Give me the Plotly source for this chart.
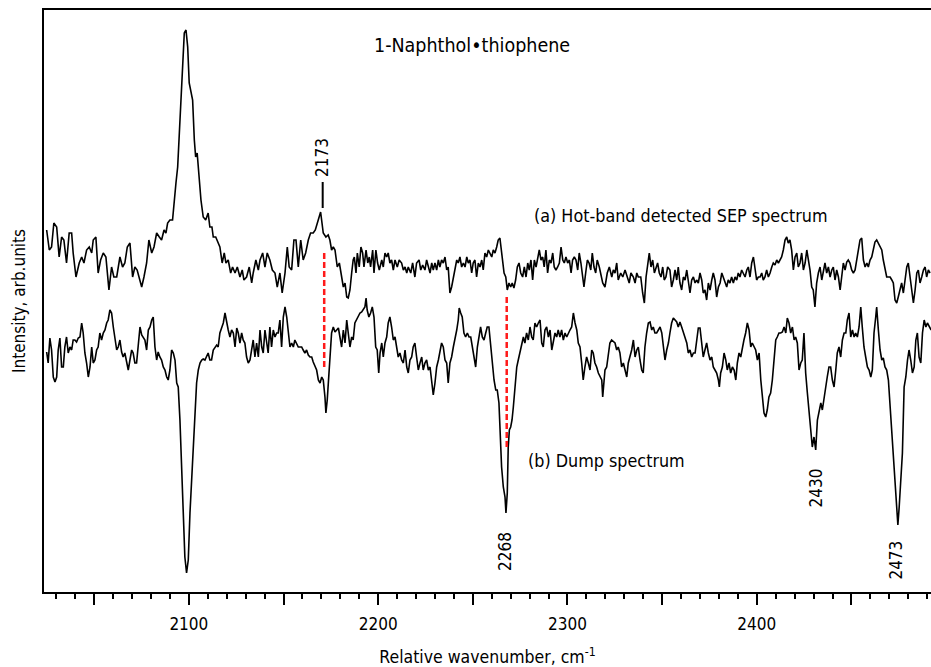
import plotly.graph_objects as go

# (a) Hot-band detected SEP spectrum
wn_a = [2024.9, 2026.3, 2027.5, 2028.7, 2030.2, 2031.5, 2032.8, 2034.0, 2035.4, 2036.8, 2038.1, 2038.9,
        2040.4, 2042.1, 2043.4, 2044.6, 2046.0, 2047.4, 2048.7, 2049.5, 2050.9, 2052.1, 2053.4, 2054.8,
        2056.2, 2057.8, 2059.2, 2060.4, 2061.9, 2063.6, 2065.0, 2066.2, 2067.5, 2068.9, 2070.3, 2071.5,
        2072.7, 2074.2, 2075.1, 2076.3, 2077.7, 2078.9, 2080.4, 2081.6, 2083.0, 2084.4, 2085.6, 2086.9,
        2087.9, 2088.8, 2090.0, 2091.4, 2092.1, 2093.2, 2094.1, 2094.9, 2095.8, 2096.7, 2097.6, 2098.5,
        2099.4, 2100.2, 2101.0, 2102.0, 2102.9, 2103.6, 2104.4, 2105.3, 2106.4, 2107.6, 2108.9, 2110.2,
        2111.1, 2112.2, 2112.9, 2114.2, 2115.5, 2116.4, 2117.6, 2118.7, 2119.6, 2120.8, 2122.1, 2123.1,
        2124.4, 2125.6, 2127.0, 2128.2, 2129.1, 2130.5, 2131.9, 2133.2, 2134.0, 2135.4, 2136.7, 2137.6,
        2139.0, 2140.2, 2141.4, 2142.8, 2144.1, 2145.5, 2146.7, 2148.1, 2149.3, 2150.8, 2152.0, 2153.0,
        2154.3, 2155.5, 2156.6, 2157.8, 2159.1, 2160.4, 2161.7, 2163.1, 2164.3, 2165.7, 2166.8, 2167.8,
        2168.9, 2169.6, 2171.0, 2172.4, 2173.6, 2174.5, 2175.4, 2176.3, 2177.2, 2178.4, 2179.5, 2180.7,
        2181.6, 2182.5, 2183.4, 2184.2, 2185.1, 2186.0, 2186.8, 2187.4, 2188.3, 2189.0, 2190.0, 2190.9,
        2191.8, 2192.5, 2193.6, 2194.5, 2195.3, 2196.0, 2197.1, 2197.8, 2198.8, 2199.7, 2200.6, 2201.9,
        2202.7, 2203.6, 2204.5, 2205.3, 2206.2, 2207.1, 2208.0, 2208.9, 2210.1, 2211.1, 2212.4, 2213.3,
        2214.2, 2215.1, 2215.9, 2217.2, 2218.2, 2219.4, 2220.3, 2221.6, 2222.5, 2223.5, 2224.7, 2225.6,
        2226.5, 2227.4, 2228.3, 2229.1, 2230.0, 2230.9, 2231.8, 2232.6, 2233.5, 2234.4, 2235.3, 2236.2,
        2237.0, 2237.9, 2238.8, 2239.7, 2240.6, 2241.5, 2242.3, 2243.2, 2244.1, 2245.0, 2245.9, 2246.8,
        2247.6, 2248.5, 2249.4, 2250.2, 2251.1, 2252.0, 2252.9, 2253.8, 2254.7, 2255.5, 2256.4, 2257.3,
        2258.2, 2259.1, 2260.0, 2260.8, 2261.7, 2262.6, 2263.4, 2264.3, 2264.9, 2265.8, 2266.5, 2267.4,
        2268.2, 2269.1, 2270.0, 2270.8, 2271.7, 2272.6, 2273.5, 2274.4, 2275.3, 2276.3, 2277.2, 2278.1,
        2279.0, 2279.8, 2280.7, 2281.6, 2282.5, 2283.4, 2284.3, 2285.1, 2286.0, 2286.9, 2287.7, 2288.6,
        2289.5, 2290.4, 2291.3, 2292.2, 2293.0, 2293.9, 2294.8, 2295.7, 2296.6, 2297.5, 2298.3, 2299.2,
        2300.1, 2301.0, 2301.9, 2302.7, 2303.6, 2304.5, 2305.4, 2306.2, 2307.1, 2308.0, 2308.7, 2309.6,
        2310.5, 2311.4, 2312.3, 2313.1, 2314.0, 2314.9, 2315.7, 2316.8, 2318.6, 2319.8, 2321.0, 2322.1,
        2323.4, 2324.2, 2325.1, 2326.0, 2326.8, 2328.1, 2329.2, 2330.4, 2331.6, 2332.6, 2333.5, 2334.8,
        2335.7, 2336.6, 2337.4, 2338.7, 2339.7, 2340.6, 2341.5, 2342.4, 2343.2, 2344.1, 2345.0, 2345.9,
        2346.8, 2347.6, 2348.5, 2349.4, 2350.3, 2351.1, 2352.0, 2352.9, 2354.1, 2355.0, 2355.9, 2356.8,
        2357.7, 2358.5, 2359.4, 2360.3, 2361.2, 2362.1, 2363.0, 2363.8, 2364.7, 2365.6, 2366.5, 2367.4,
        2368.2, 2369.1, 2370.0, 2370.9, 2371.7, 2372.6, 2373.5, 2374.4, 2375.3, 2376.2, 2377.0, 2377.9,
        2378.8, 2379.7, 2380.6, 2381.5, 2382.3, 2383.2, 2384.1, 2384.9, 2385.8, 2386.7, 2387.6, 2388.5,
        2389.4, 2390.2, 2391.1, 2392.0, 2392.9, 2393.8, 2394.7, 2395.5, 2396.4, 2397.3, 2398.2, 2399.0,
        2399.9, 2400.8, 2401.7, 2402.6, 2403.4, 2404.3, 2405.2, 2406.1, 2407.0, 2407.9, 2408.7, 2409.6,
        2410.5, 2411.4, 2412.3, 2413.1, 2414.0, 2414.9, 2415.8, 2416.6, 2417.5, 2418.4, 2419.3, 2420.2,
        2421.1, 2421.9, 2422.8, 2423.7, 2424.6, 2425.5, 2426.4, 2427.2, 2428.1, 2429.0, 2429.8, 2430.7,
        2431.6, 2432.5, 2433.4, 2434.3, 2435.1, 2436.0, 2436.9, 2437.8, 2438.7, 2439.6, 2440.4, 2441.3,
        2442.2, 2443.1, 2444.0, 2444.8, 2445.7, 2446.6, 2447.5, 2448.3, 2449.2, 2450.1, 2451.0, 2451.9,
        2452.8, 2453.6, 2454.5, 2455.4, 2456.3, 2457.2, 2458.1, 2458.9, 2459.8, 2460.7, 2461.5, 2462.4,
        2463.3, 2464.2, 2465.1, 2466.0, 2466.8, 2467.7, 2468.6, 2469.5, 2470.4, 2471.3, 2472.1, 2473.0,
        2473.9, 2474.7, 2475.6, 2476.5, 2477.4, 2478.3, 2479.2, 2480.0, 2480.9, 2481.8, 2482.7, 2483.6,
        2484.5, 2485.3, 2486.2, 2487.1, 2488.0, 2488.9, 2489.7, 2490.6, 2491.5]
int_a = [36.2, 34.2, 34.5, 36.9, 36.5, 33.5, 35.5, 35.2, 32.9, 35.9, 35.9, 33.9,
         31.5, 32.9, 33.5, 32.9, 34.2, 34.5, 33.9, 35.2, 35.5, 31.9, 33.2, 33.9,
         33.5, 30.2, 32.5, 31.5, 31.5, 33.5, 32.5, 32.9, 34.5, 34.9, 31.5, 32.5,
         32.2, 31.2, 30.5, 31.5, 32.9, 35.2, 33.9, 34.5, 35.9, 35.5, 35.2, 36.2,
         35.9, 36.9, 37.2, 37.2, 38.9, 40.9, 42.5, 45.9, 49.2, 52.5, 55.9, 56.2,
         54.5, 50.9, 50.2, 49.2, 45.2, 43.5, 43.9, 41.5, 39.2, 37.5, 37.2, 37.9,
         36.5, 36.5, 35.5, 35.5, 34.9, 34.5, 32.9, 33.9, 32.9, 33.2, 31.9, 32.5,
         31.9, 32.5, 31.5, 32.2, 31.2, 31.5, 32.5, 30.9, 31.9, 33.2, 32.2, 33.2,
         33.9, 32.5, 33.9, 33.2, 32.2, 31.9, 30.5, 31.9, 29.9, 31.9, 34.5, 32.5,
         32.2, 35.2, 35.2, 32.5, 35.2, 33.2, 33.9, 35.2, 35.9, 35.9, 36.2, 36.9,
         37.5, 38.0, 35.9, 35.5, 35.7, 35.2, 34.2, 34.5, 34.2, 32.5, 32.9, 31.5,
         30.5, 30.9, 29.5, 29.4, 30.2, 31.9, 33.2, 33.5, 31.9, 33.9, 32.5, 34.5,
         33.9, 32.5, 34.2, 32.9, 33.5, 32.5, 34.2, 31.9, 34.2, 32.9, 32.2, 33.2,
         32.5, 33.9, 33.5, 33.9, 32.9, 33.2, 32.2, 33.2, 32.5, 33.2, 32.9, 32.2,
         32.5, 31.9, 32.5, 31.9, 32.9, 31.5, 32.9, 33.2, 32.2, 32.7, 32.2, 33.2,
         32.5, 31.9, 32.9, 32.2, 32.9, 32.2, 33.2, 32.5, 33.2, 32.9, 33.5, 32.2,
         32.5, 29.9, 30.5, 31.5, 32.5, 33.2, 32.9, 33.5, 32.5, 32.9, 32.5, 33.5,
         32.9, 33.2, 31.9, 32.9, 33.2, 31.5, 32.9, 32.5, 33.2, 32.2, 33.9, 33.5,
         34.2, 33.9, 33.5, 34.2, 33.9, 34.5, 35.2, 35.4, 34.5, 32.9, 31.9, 31.5,
         30.2, 30.9, 30.5, 30.9, 30.4, 31.2, 32.5, 32.9, 31.9, 31.5, 32.5, 31.5,
         32.9, 32.2, 33.2, 31.2, 33.2, 32.5, 33.5, 34.2, 33.2, 33.5, 32.5, 34.2,
         31.9, 33.2, 32.9, 33.9, 32.5, 32.2, 32.5, 32.9, 34.5, 33.2, 32.9, 33.5,
         32.9, 33.2, 31.9, 33.2, 33.5, 33.2, 32.2, 33.9, 32.9, 31.5, 30.5, 31.9,
         33.2, 32.9, 32.2, 33.9, 32.5, 31.9, 33.2, 32.5, 30.9, 30.5, 31.9, 32.5,
         31.5, 32.2, 31.9, 32.9, 31.2, 31.9, 31.5, 32.2, 31.5, 30.9, 31.9, 31.5,
         30.9, 31.9, 31.5, 31.5, 29.9, 28.9, 31.5, 32.9, 33.9, 32.5, 33.2, 31.9,
         32.5, 32.9, 31.9, 31.5, 32.5, 31.2, 31.5, 32.5, 32.2, 30.5, 31.2, 32.2,
         31.2, 32.5, 30.9, 30.2, 31.5, 31.2, 32.2, 30.9, 29.9, 31.2, 31.5, 30.9,
         31.2, 30.9, 31.9, 31.2, 29.9, 30.2, 29.2, 30.9, 30.2, 31.2, 31.9, 31.2,
         29.5, 30.5, 30.9, 31.9, 31.5, 30.9, 30.5, 31.2, 30.9, 31.5, 30.9, 31.5,
         31.2, 31.9, 31.5, 32.2, 31.9, 31.5, 32.2, 32.5, 31.5, 32.9, 33.5, 32.2,
         31.2, 31.5, 31.5, 31.9, 31.2, 31.5, 32.2, 31.5, 31.9, 32.5, 32.9, 32.7,
         33.2, 32.9, 33.2, 33.5, 34.2, 35.2, 35.5, 34.9, 35.2, 34.2, 32.2, 33.5,
         33.9, 32.5, 32.9, 33.9, 32.2, 32.9, 34.2, 33.2, 32.2, 30.5, 30.2, 28.5,
         30.9, 31.9, 32.5, 31.2, 32.2, 32.9, 31.9, 32.5, 31.5, 32.2, 32.5, 31.2,
         32.2, 31.5, 30.2, 31.5, 32.9, 32.2, 33.0, 33.2, 32.9, 32.2, 31.9, 32.2,
         33.2, 34.2, 35.2, 35.4, 33.2, 32.5, 32.9, 32.5, 33.2, 33.5, 34.2, 35.0,
         35.2, 34.9, 34.5, 34.2, 33.2, 32.2, 31.5, 31.5, 31.5, 31.2, 30.9, 29.2,
         28.9, 29.5, 30.2, 30.9, 29.9, 31.5, 32.5, 32.9, 31.5, 29.9, 28.9, 30.2,
         31.9, 32.2, 30.9, 31.5, 32.2, 32.5, 31.5, 32.2, 31.9]

# (b) Dump spectrum
wn_b = [2024.9, 2025.7, 2026.6, 2027.5, 2028.4, 2029.3, 2030.2, 2031.0, 2031.9, 2032.8, 2033.7, 2034.5,
        2035.4, 2036.3, 2037.2, 2038.1, 2038.9, 2039.8, 2040.7, 2041.6, 2042.5, 2043.4, 2044.2, 2045.1,
        2046.0, 2046.9, 2047.8, 2048.7, 2049.5, 2050.4, 2051.3, 2052.1, 2053.0, 2053.9, 2054.8, 2055.7,
        2056.6, 2057.4, 2058.3, 2059.2, 2060.1, 2061.0, 2061.9, 2062.7, 2063.6, 2064.5, 2065.3, 2066.2,
        2067.1, 2068.0, 2068.9, 2069.8, 2070.6, 2071.5, 2072.4, 2073.3, 2074.2, 2075.1, 2075.9, 2076.8,
        2077.7, 2078.6, 2079.5, 2080.4, 2081.2, 2082.1, 2083.0, 2083.8, 2084.7, 2085.6, 2086.5, 2087.4,
        2088.3, 2089.1, 2090.0, 2090.9, 2091.8, 2092.7, 2093.6, 2094.4, 2095.3, 2096.2, 2097.0, 2097.9,
        2098.8, 2099.7, 2100.6, 2101.5, 2102.3, 2103.2, 2104.1, 2105.0, 2105.9, 2106.8, 2107.6, 2108.5,
        2109.4, 2110.2, 2111.1, 2112.0, 2112.9, 2113.8, 2114.7, 2115.5, 2116.4, 2117.3, 2118.2, 2119.1,
        2120.0, 2120.8, 2121.7, 2122.6, 2123.5, 2124.4, 2125.3, 2126.1, 2127.0, 2127.9, 2128.7, 2129.6,
        2130.5, 2131.4, 2132.3, 2133.2, 2134.0, 2134.9, 2135.8, 2136.7, 2137.6, 2138.5, 2139.3, 2140.2,
        2141.1, 2141.9, 2142.8, 2143.7, 2144.6, 2145.5, 2146.4, 2147.2, 2148.1, 2149.0, 2149.9, 2150.8,
        2151.7, 2152.5, 2153.4, 2154.3, 2155.2, 2156.0, 2156.9, 2157.8, 2158.7, 2159.6, 2160.4, 2161.3,
        2162.2, 2163.1, 2164.0, 2164.9, 2165.7, 2166.6, 2167.5, 2168.4, 2169.3, 2170.2, 2171.0, 2171.9,
        2172.4, 2173.1, 2173.9, 2174.5, 2175.4, 2176.3, 2177.2, 2178.1, 2179.0, 2180.7, 2181.6, 2182.5,
        2183.4, 2184.2, 2185.1, 2186.0, 2186.8, 2187.7, 2188.6, 2189.5, 2190.4, 2191.3, 2192.1, 2193.0,
        2193.6, 2194.2, 2195.1, 2196.0, 2196.9, 2197.8, 2198.7, 2199.5, 2200.3, 2201.0, 2201.9, 2202.7,
        2203.6, 2204.5, 2205.3, 2206.2, 2207.1, 2208.0, 2208.9, 2209.8, 2210.6, 2211.5, 2212.4, 2213.3,
        2214.2, 2215.1, 2215.9, 2216.8, 2217.7, 2218.5, 2219.4, 2220.3, 2221.2, 2222.1, 2223.0, 2223.8,
        2224.7, 2225.6, 2226.5, 2227.4, 2228.3, 2229.1, 2230.0, 2230.9, 2231.8, 2232.6, 2233.5, 2234.4,
        2235.3, 2236.2, 2237.0, 2237.9, 2238.8, 2239.7, 2240.6, 2241.5, 2242.3, 2242.8, 2243.6, 2244.4,
        2245.3, 2246.2, 2247.1, 2248.0, 2248.9, 2249.7, 2250.6, 2251.5, 2252.4, 2253.2, 2254.1, 2255.0,
        2255.9, 2256.8, 2257.6, 2258.5, 2259.4, 2260.3, 2261.2, 2262.1, 2262.9, 2263.8, 2264.3, 2265.2,
        2266.1, 2267.0, 2267.5, 2268.2, 2268.7, 2269.3, 2270.0, 2270.7, 2271.4, 2272.3, 2273.2, 2274.0,
        2274.9, 2275.8, 2276.7, 2277.5, 2278.4, 2279.3, 2280.2, 2281.1, 2281.9, 2282.8, 2283.7, 2284.6,
        2285.5, 2286.4, 2287.2, 2288.1, 2289.0, 2289.9, 2290.8, 2291.7, 2292.5, 2293.4, 2294.3, 2295.1,
        2296.0, 2296.9, 2297.8, 2298.7, 2299.6, 2300.4, 2301.3, 2302.2, 2303.1, 2304.0, 2304.9, 2305.7,
        2306.6, 2307.5, 2308.3, 2309.2, 2310.1, 2311.0, 2311.9, 2312.8, 2313.6, 2314.5, 2315.4, 2316.3,
        2317.2, 2318.1, 2318.6, 2319.3, 2319.8, 2320.7, 2321.5, 2322.4, 2323.3, 2324.2, 2325.1, 2326.0,
        2326.8, 2327.7, 2328.6, 2329.5, 2330.4, 2331.3, 2332.1, 2333.0, 2333.9, 2334.8, 2335.7, 2336.6,
        2337.4, 2338.3, 2339.2, 2340.0, 2340.9, 2341.8, 2342.7, 2343.6, 2344.5, 2345.3, 2346.2, 2347.1,
        2348.0, 2348.9, 2349.8, 2350.6, 2351.5, 2352.4, 2353.3, 2354.1, 2355.0, 2355.9, 2356.8, 2357.7,
        2358.5, 2359.4, 2360.3, 2361.2, 2362.1, 2363.0, 2363.8, 2364.7, 2365.6, 2366.5, 2367.4, 2368.2,
        2369.1, 2370.0, 2370.9, 2371.7, 2372.6, 2373.5, 2374.4, 2375.3, 2376.2, 2377.0, 2377.9, 2378.8,
        2379.7, 2380.2, 2380.9, 2381.8, 2382.7, 2383.6, 2384.4, 2385.3, 2386.2, 2387.1, 2388.0, 2388.9,
        2389.7, 2390.6, 2391.5, 2392.3, 2393.2, 2394.1, 2395.0, 2395.9, 2396.8, 2397.6, 2398.5, 2399.4,
        2400.3, 2401.2, 2402.1, 2402.9, 2403.8, 2404.7, 2405.5, 2406.4, 2407.3, 2408.2, 2409.1, 2410.0,
        2410.8, 2411.7, 2412.6, 2413.5, 2414.4, 2415.3, 2416.1, 2417.0, 2417.9, 2418.8, 2419.7, 2420.5,
        2421.4, 2422.3, 2423.2, 2424.0, 2424.9, 2425.8, 2426.7, 2427.6, 2428.5, 2429.3, 2430.2, 2431.1,
        2432.0, 2432.9, 2433.8, 2434.6, 2435.5, 2436.4, 2437.2, 2438.1, 2439.0, 2439.9, 2440.8, 2441.7,
        2442.5, 2443.4, 2444.3, 2445.2, 2446.1, 2447.0, 2447.8, 2448.7, 2449.6, 2450.5, 2451.4, 2452.2,
        2453.1, 2454.0, 2454.9, 2455.7, 2456.6, 2457.5, 2458.4, 2459.3, 2460.2, 2461.0, 2461.9, 2462.8,
        2463.3, 2464.2, 2465.1, 2466.0, 2466.8, 2467.7, 2468.6, 2469.5, 2470.4, 2471.3, 2472.1, 2473.0,
        2473.9, 2474.5, 2475.2, 2476.0, 2476.9, 2477.8, 2478.7, 2479.6, 2480.4, 2481.3, 2482.2, 2483.1,
        2484.0, 2484.8, 2485.7, 2486.6, 2487.5, 2488.4, 2489.3, 2490.1, 2491.0, 2492.1]
int_b = [24.0, 22.9, 25.4, 24.2, 21.5, 21.0, 21.5, 24.2, 25.4, 22.5, 22.5, 24.5,
         25.5, 23.9, 24.5, 24.2, 25.2, 25.2, 25.0, 25.4, 25.5, 26.9, 25.9, 23.9,
         22.9, 21.5, 22.5, 24.5, 22.9, 23.2, 24.2, 24.5, 25.9, 25.2, 25.9, 26.2,
         26.9, 27.2, 28.2, 27.9, 26.5, 25.2, 24.2, 24.5, 25.2, 24.0, 23.5, 23.9,
         22.9, 22.2, 23.2, 24.2, 23.9, 22.9, 22.9, 25.2, 26.5, 25.7, 25.5, 25.2,
         24.2, 26.2, 26.5, 27.2, 27.5, 24.5, 23.2, 24.0, 23.5, 23.2, 22.5, 22.2,
         21.5, 21.2, 22.2, 24.2, 23.9, 23.2, 20.9, 20.5, 17.2, 12.5, 7.9, 3.5,
         1.9, 3.2, 7.9, 11.2, 15.2, 18.5, 20.9, 22.2, 22.9, 23.2, 23.3, 23.2,
         23.5, 23.9, 23.2, 23.2, 24.2, 24.5, 24.7, 24.5, 25.9, 26.4, 26.9, 27.9,
         26.9, 26.2, 25.5, 26.2, 25.9, 24.5, 26.4, 25.9, 24.9, 25.9, 25.2, 24.9,
         23.5, 22.9, 23.2, 24.2, 25.2, 23.5, 24.9, 23.5, 26.2, 24.5, 23.9, 26.2,
         24.9, 23.9, 26.5, 24.5, 26.2, 25.5, 25.9, 25.9, 27.2, 24.5, 27.5, 28.5,
         27.5, 25.9, 24.5, 24.9, 24.5, 25.2, 24.9, 24.5, 24.5, 24.5, 24.2, 23.9,
         24.2, 23.7, 23.5, 23.5, 23.0, 22.5, 22.2, 21.2, 20.9, 21.5, 21.2, 19.5,
         17.9, 19.2, 21.2, 23.5, 25.9, 26.5, 26.0, 26.2, 26.4, 24.5, 26.2, 24.9,
         27.2, 25.9, 24.5, 25.5, 25.2, 26.9, 27.2, 27.5, 27.9, 28.0, 28.2, 28.5,
         29.4, 28.2, 27.5, 27.9, 28.5, 27.5, 24.5, 24.2, 21.9, 23.9, 24.9, 23.5,
         24.9, 25.5, 26.9, 27.5, 26.5, 25.2, 25.5, 24.5, 23.5, 23.9, 23.2, 22.9,
         24.2, 22.5, 21.9, 23.2, 23.5, 24.5, 24.9, 23.5, 22.2, 22.9, 23.5, 22.2,
         22.9, 23.2, 22.2, 22.5, 21.2, 19.7, 20.9, 22.5, 23.2, 23.9, 24.9, 24.5,
         23.2, 22.9, 20.9, 22.9, 23.5, 24.5, 25.2, 26.2, 27.2, 28.4, 27.9, 27.5,
         25.9, 25.5, 25.9, 25.5, 25.5, 24.5, 23.2, 22.5, 24.5, 25.5, 26.5, 25.5,
         25.2, 25.9, 26.5, 26.5, 24.5, 22.9, 21.2, 20.2, 20.2, 18.9, 16.2, 12.5,
         10.5, 9.5, 7.9, 9.9, 14.5, 16.2, 16.5, 17.2, 18.5, 20.5, 22.5, 23.2,
         23.9, 24.5, 25.5, 24.9, 25.9, 25.2, 26.5, 25.5, 25.2, 26.9, 26.5, 26.9,
         27.2, 24.9, 24.5, 26.2, 26.5, 25.5, 26.2, 24.2, 25.2, 25.9, 25.5, 26.2,
         25.5, 26.2, 25.2, 25.9, 25.5, 25.9, 26.2, 26.5, 27.9, 26.9, 26.2, 24.9,
         24.5, 22.9, 21.2, 22.5, 23.5, 22.9, 22.2, 24.2, 23.9, 22.9, 22.5, 21.9,
         21.5, 21.2, 19.5, 21.2, 22.2, 22.5, 23.5, 24.9, 25.2, 25.0, 24.9, 24.2,
         24.5, 23.9, 22.5, 22.9, 22.2, 21.5, 22.9, 23.5, 24.2, 25.2, 23.5, 24.2,
         24.5, 23.2, 22.2, 21.9, 24.5, 25.9, 26.9, 27.0, 26.2, 26.5, 25.9, 25.9,
         26.2, 26.5, 25.9, 24.5, 23.2, 24.2, 24.9, 25.9, 26.9, 27.4, 27.2, 27.0,
         26.5, 27.0, 26.5, 25.9, 25.5, 24.9, 23.9, 24.2, 23.5, 23.9, 23.9, 25.2,
         26.4, 26.4, 24.5, 23.5, 24.2, 24.9, 23.9, 23.2, 23.5, 22.5, 22.2, 21.9,
         21.2, 20.5, 21.9, 22.5, 23.9, 23.2, 22.2, 22.9, 21.9, 22.5, 22.2, 21.2,
         22.9, 23.9, 23.5, 24.5, 25.2, 25.9, 26.9, 26.2, 24.5, 24.9, 24.5, 24.2,
         23.2, 23.9, 21.2, 19.5, 17.9, 17.5, 18.2, 19.5, 19.9, 21.2, 23.5, 25.2,
         25.5, 25.9, 25.9, 26.0, 26.5, 25.9, 27.4, 26.9, 25.9, 26.5, 25.2, 25.5,
         24.9, 22.2, 22.9, 23.2, 25.9, 21.9, 19.9, 17.9, 15.9, 14.5, 15.5, 14.2,
         17.2, 17.9, 18.9, 18.2, 19.5, 20.5, 21.5, 22.5, 22.5, 21.2, 20.5, 22.2,
         23.9, 24.5, 23.5, 25.2, 25.9, 25.9, 27.2, 27.9, 25.5, 26.2, 25.5, 25.9,
         25.5, 26.5, 28.5, 26.5, 24.5, 23.5, 22.5, 22.2, 21.5, 22.2, 25.9, 27.5,
         28.5, 26.2, 24.2, 23.2, 23.4, 22.5, 22.2, 21.2, 18.5, 16.5, 13.9, 11.2,
         8.5, 6.7, 8.5, 11.2, 13.9, 20.5, 21.5, 23.2, 24.2, 23.2, 21.9, 22.5,
         25.2, 25.9, 23.5, 22.9, 25.9, 27.2, 26.5, 26.9, 26.5, 26.2]

# Red dashed correlation lines between the spectra
link_wn = [2171.5, 2267.9]
link_top = [33.9, 29.5]
link_bottom = [22.4, 14.5]

# Peak labels
peak_text = ["2173", "2268", "2430", "2473"]

FONT = "DejaVu Sans Condensed, DejaVu Sans, sans-serif"

fig = go.Figure()

fig.add_trace(go.Scatter(x=wn_a, y=int_a, mode="lines",
                         line=dict(color="black", width=1.6), showlegend=False, hoverinfo="skip"))
fig.add_trace(go.Scatter(x=wn_b, y=int_b, mode="lines",
                         line=dict(color="black", width=1.6), showlegend=False, hoverinfo="skip"))

for w, t, b in zip(link_wn, link_top, link_bottom):
    fig.add_trace(go.Scatter(x=[w, w], y=[t, b], mode="lines",
                             line=dict(color="#ff1a1a", width=2.5, dash="6px,3px"),
                             showlegend=False, hoverinfo="skip"))

# marker bar above the 2173 peak
fig.add_trace(go.Scatter(x=[2170.7, 2170.7], y=[38.4, 41.0], mode="lines",
                         line=dict(color="black", width=2), showlegend=False, hoverinfo="skip"))

label_pos = [(2170.3, 43.5), (2267.0, 4.0), (2431.5, 10.4), (2473.3, 3.2)]
for txt, (lx, ly) in zip(peak_text, label_pos):
    fig.add_annotation(x=lx, y=ly, text=txt, showarrow=False, textangle=-90,
                       xanchor="center", yanchor="middle",
                       font=dict(family=FONT, size=17, color="black"))

fig.add_annotation(x=2249.6, y=54.7, text="1-Naphthol•thiophene", showarrow=False,
                   xanchor="center", yanchor="middle", font=dict(family=FONT, size=19.5, color="black"))
fig.add_annotation(x=2359.7, y=37.7, text="(a) Hot-band detected SEP spectrum", showarrow=False,
                   xanchor="center", yanchor="middle", font=dict(family=FONT, size=17.8, color="black"))
fig.add_annotation(x=2320.7, y=13.2, text="(b) Dump spectrum", showarrow=False,
                   xanchor="center", yanchor="middle", font=dict(family=FONT, size=17.8, color="black"))

fig.update_layout(
    width=931, height=667,
    margin=dict(l=44, r=0, t=10, b=75, autoexpand=False),
    paper_bgcolor="white", plot_bgcolor="white",
    font=dict(family=FONT, size=16, color="black"),
    xaxis=dict(
        range=[2023.5, 2492.0],
        automargin=False,
        tickvals=[2050, 2100, 2150, 2200, 2250, 2300, 2350, 2400, 2450],
        ticktext=["", "2100", "", "2200", "", "2300", "", "2400", ""],
        ticks="outside", ticklen=11, tickwidth=2, tickcolor="black",
        ticklabelstandoff=5,
        minor=dict(dtick=10, tick0=2000, ticks="outside", ticklen=5, tickwidth=2, tickcolor="black"),
        showline=True, linewidth=2, linecolor="black", mirror=True,
        showgrid=False, zeroline=False,
        tickfont=dict(family=FONT, size=17),
        title=dict(text="Relative wavenumber, cm<sup>-1</sup>", font=dict(family=FONT, size=17.5), standoff=18),
    ),
    yaxis=dict(
        range=[0, 58.2],
        automargin=False,
        showticklabels=False, ticks="",
        showline=True, linewidth=2, linecolor="black",
        showgrid=False, zeroline=False,
        title=dict(text="Intensity, arb.units", font=dict(family=FONT, size=17), standoff=12),
    ),
)

fig.write_html("out.html", config={"displayModeBar": False},
               post_script="document.body.style.margin='0';document.body.style.overflow='hidden';")
